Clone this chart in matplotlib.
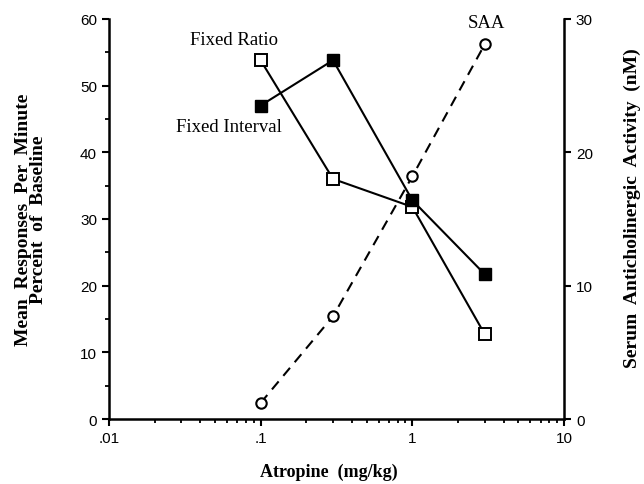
import matplotlib
matplotlib.use("Agg")
import matplotlib.pyplot as plt
from matplotlib.ticker import FixedLocator, NullLocator, LogLocator, NullFormatter

# Data
dose = [0.1, 0.3, 1.0, 3.0]
fixed_ratio = [53.8, 36.0, 31.8, 12.7]
fixed_interval = [47.0, 53.8, 32.8, 21.7]
saa = [1.2, 7.7, 18.2, 28.1]

x_ticks = [0.01, 0.1, 1, 10]
x_ticklabels = ['.01', '.1', '1', '10']
left_ticks = [0, 10, 20, 30, 40, 50, 60]
right_ticks = [0, 10, 20, 30]

serif = 'Liberation Serif'
sans = 'Liberation Sans'

fig = plt.figure(figsize=(6.44, 4.85), dpi=100)
ax1 = fig.add_axes([0.169, 0.134, 0.707, 0.825])
ax2 = ax1.twinx()

lw = 1.5
ax1.plot(dose, fixed_ratio, color='black', lw=lw, marker='s', ms=8,
         mfc='white', mec='black', mew=1.4, zorder=3)
ax1.plot(dose, fixed_interval, color='black', lw=lw, marker='s', ms=8,
         mfc='black', mec='black', zorder=3)
ax2.plot(dose, saa, color='black', lw=lw, ls=(0, (5, 3.5)), marker='o', ms=7.5,
         mfc='white', mec='black', mew=1.5, zorder=3)

ax1.set_xscale('log')
ax1.set_xlim(0.01, 10)
ax1.set_ylim(0, 60)
ax2.set_ylim(0, 30)

ax1.xaxis.set_major_locator(FixedLocator(x_ticks))
ax1.set_xticklabels(x_ticklabels)
ax1.xaxis.set_minor_locator(LogLocator(base=10, subs=range(2, 10)))
ax1.xaxis.set_minor_formatter(NullFormatter())
ax1.yaxis.set_major_locator(FixedLocator(left_ticks))
ax1.yaxis.set_minor_locator(FixedLocator(range(5, 60, 10)))
ax2.yaxis.set_major_locator(FixedLocator(right_ticks))
ax2.yaxis.set_minor_locator(NullLocator())

for ax in (ax1, ax2):
    ax.spines['top'].set_visible(False)
    for s in ax.spines.values():
        s.set_linewidth(1.8)
ax2.spines['left'].set_visible(False)
ax2.spines['bottom'].set_visible(False)
ax1.spines['right'].set_visible(False)

ax1.tick_params(axis='both', which='major', direction='out', length=5, width=1.5,
                labelsize=11)
ax1.tick_params(axis='both', which='minor', direction='out', length=3, width=1.3)
ax2.tick_params(axis='y', which='major', direction='out', length=5, width=1.5,
                labelsize=11)
for lab in ax1.get_xticklabels() + ax1.get_yticklabels() + ax2.get_yticklabels():
    lab.set_fontfamily(sans)

ax1.set_xlabel('Atropine  (mg/kg)', fontfamily=serif, fontweight='bold',
               fontsize=13, va='center')
ax1.xaxis.set_label_coords(0.483, -0.13)
ax1.set_ylabel('Mean  Responses  Per  Minute\nPercent  of  Baseline',
               fontfamily=serif, fontweight='bold', fontsize=14, labelpad=24,
               linespacing=0.85)
ax2.set_ylabel('Serum  Anticholinergic  Activity  (nM)', fontfamily=serif,
               fontweight='bold', fontsize=14, rotation=90, va='center')
ax2.yaxis.set_label_coords(1.15, 0.53)

ax1.annotate('Fixed Ratio', (dose[0], fixed_ratio[0]), xytext=(-19, 15),
             textcoords='offset points', ha='center', va='center',
             fontfamily=serif, fontsize=13.5)
ax1.annotate('Fixed Interval', (dose[0], fixed_interval[0]), xytext=(-23, -15),
             textcoords='offset points', ha='center', va='center',
             fontfamily=serif, fontsize=13.5)
ax2.annotate('SAA', (dose[3], saa[3]), xytext=(1, 16),
             textcoords='offset points', ha='center', va='center',
             fontfamily=serif, fontsize=13.5)

fig.savefig('out.png', dpi=100)
